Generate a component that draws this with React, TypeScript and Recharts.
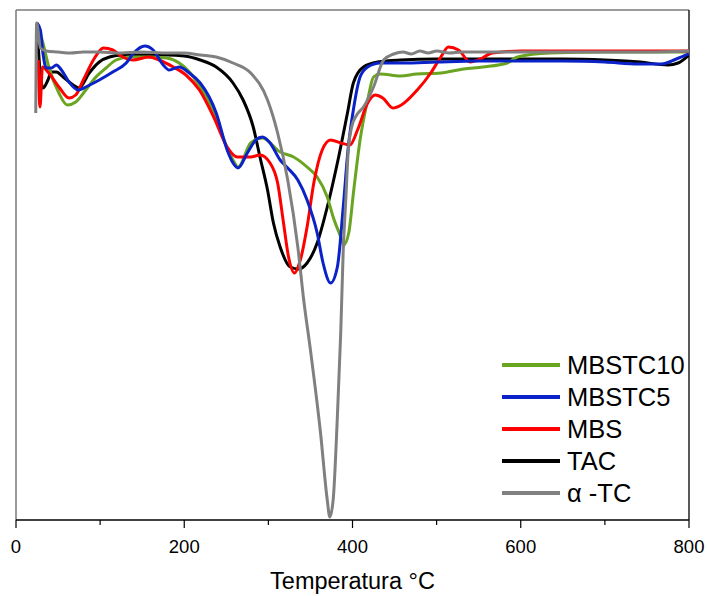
import React from 'react';
import { LineChart, Line, XAxis, YAxis, ReferenceLine, Legend, Label } from 'recharts';

// Temperatures (°C) and DTG signal (arbitrary units)
const tempMBSTC10 = [25, 32, 39, 51, 61, 71, 83, 95, 107, 119, 135, 158, 179, 194, 211, 226, 238, 243, 258, 264, 279, 293, 314, 330, 346, 358, 370, 377, 386, 389.5, 395.5, 401.5, 409, 418, 425, 433, 457, 476, 505, 532, 555, 584, 596, 635, 700, 800];
const dtgMBSTC10 = [497, 477, 453, 427, 415, 418, 430, 443, 452, 460, 463, 463, 462, 457, 443, 423, 403, 390, 360, 353, 377, 382, 368, 363, 353, 343, 323, 303, 283, 275, 287, 330, 380, 420, 443, 446, 444, 446, 447, 451, 453, 457, 463, 467, 468, 468];

const tempMBSTC5 = [25, 29, 32, 36, 42, 48, 54, 63, 74, 83, 99, 115, 131, 140, 153, 163, 175, 182, 194, 206, 219, 238, 251, 258, 264, 275, 285, 293, 302, 314, 323, 335, 346, 358, 365, 374, 382, 389, 395, 401, 409, 418, 433, 460, 500, 550, 600, 650, 700, 740, 767, 785, 800];
const dtgMBSTC5 = [497, 490, 467, 452, 452, 455, 450, 438, 430, 433, 440, 448, 457, 467, 474, 470, 455, 450, 453, 447, 437, 407, 370, 357, 352, 367, 380, 383, 377, 360, 352, 340, 320, 287, 257, 237, 253, 313, 373, 410, 443, 453, 457, 457, 458, 459, 459, 459, 458, 456, 456, 461, 466];

const tempMBS = [26.5, 28.5, 31.5, 39, 51, 63, 71, 80, 92, 104, 115, 127, 139, 158, 170, 187, 202, 218, 235, 251, 263, 279, 290, 302, 311, 318, 324, 331, 338, 346, 354, 364, 374, 386, 397, 406, 418, 427, 436, 448, 458, 477, 493, 505, 514, 526, 540, 552, 566, 600, 700, 800];
const dtgMBS = [460, 413, 453, 447, 433, 422, 425, 440, 460, 472, 470, 463, 460, 463, 460, 453, 445, 430, 403, 373, 363, 363, 365, 357, 337, 297, 263, 247, 260, 293, 337, 370, 380, 377, 375, 390, 417, 425, 422, 412, 415, 430, 447, 463, 473, 470, 458, 461, 467, 469, 469, 469];

const tempTAC = [25, 28, 32, 38, 42, 48, 56, 68, 75, 87, 99, 111, 127, 150, 180, 200, 219, 238, 258, 270, 282, 290, 299, 306, 314, 326, 336, 346, 358, 370, 382, 394, 401, 413, 430, 457, 500, 550, 600, 650, 700, 742, 775, 787, 800];
const dtgTAC = [495, 455, 432, 440, 448, 448, 443, 435, 432, 447, 458, 463, 465, 465, 465, 464, 460, 453, 437, 420, 393, 363, 330, 297, 273, 253, 251, 257, 277, 313, 357, 407, 437, 453, 458, 460, 461, 461, 461, 461, 460, 458, 455, 457, 465];

const tempAlphaTC = [23.5, 24.5, 29, 36, 50, 65, 80, 100, 120, 150, 180, 200, 219, 238, 258, 279, 299, 311, 323, 335, 342, 350, 362, 370, 373, 377, 382, 386, 389, 392, 395, 399, 405, 413, 425, 437, 449, 460, 470, 480, 490, 500, 515, 530, 550, 600, 650, 700, 750, 800];
const dtgAlphaTC = [407, 497, 472, 469, 468, 467, 468, 468, 467, 468, 467, 467, 465, 463, 457, 447, 420, 387, 340, 273, 220, 170, 87, 20, 3, 20, 103, 187, 270, 320, 370, 393, 405, 413, 433, 460, 466, 468, 466, 469, 467, 469, 467, 468, 468, 468, 468, 468, 468, 469];

const xTicks = [0, 100, 200, 300, 400, 500, 600, 700, 800];
const xLabel = 'Temperatura °C';

const zip = (t: number[], v: number[]) => t.map((T, i) => ({ T, v: v[i] }));

const series = [
  { name: 'MBSTC10', color: '#6aa521', data: zip(tempMBSTC10, dtgMBSTC10) },
  { name: 'MBSTC5', color: '#0a22c8', data: zip(tempMBSTC5, dtgMBSTC5) },
  { name: 'MBS', color: '#ff0000', data: zip(tempMBS, dtgMBS) },
  { name: 'TAC', color: '#000000', data: zip(tempTAC, dtgTAC) },
  { name: 'α -TC', color: '#808080', data: zip(tempAlphaTC, dtgAlphaTC) },
];

const drawOrder = ['TAC', 'MBSTC10', 'MBS', 'MBSTC5', 'α -TC'];

const FONT = 'Arial, "Liberation Sans", sans-serif';

const XTick = (props: any) => {
  const { x, y, payload } = props;
  const major = payload.value % 200 === 0;
  return (
    <g>
      <line x1={x} x2={x} y1={y} y2={y + (major ? 8 : 5)} stroke="#000" strokeWidth={1.2} />
      {major && (
        <text x={x} y={y + 33} textAnchor="middle" fontSize={18.5} fill="#000" fontFamily={FONT}>
          {payload.value}
        </text>
      )}
    </g>
  );
};

const LegendBox = () => (
  <div style={{ fontFamily: FONT }}>
    {series.map((s) => (
      <div key={s.name} style={{ display: 'flex', alignItems: 'center', height: 32 }}>
        <div style={{ width: 58, height: 3.5, background: s.color, marginRight: 7 }} />
        <span style={{ fontSize: 25.5, color: '#000', lineHeight: '32px', whiteSpace: 'nowrap' }}>{s.name}</span>
      </div>
    ))}
  </div>
);

export default function App() {
  return (
    <div style={{ position: 'absolute', left: 0, top: 0, width: 707, height: 596, background: '#fff' }}>
      <LineChart width={707} height={596} margin={{ top: 10, right: 18, left: 16, bottom: 0 }}>
        <XAxis
          type="number"
          dataKey="T"
          domain={[0, 800]}
          ticks={xTicks}
          allowDataOverflow
          tickSize={0}
          tickMargin={0}
          tickLine={false}
          tick={<XTick />}
          axisLine={{ stroke: '#000', strokeWidth: 1.5 }}
          height={76}
          interval={0}
        >
          <Label
            content={(p: any) => {
              const vb = p.viewBox;
              return (
                <text x={vb.x + vb.width / 2} y={vb.y + 69} textAnchor="middle" fontSize={23.5} fill="#000" fontFamily={FONT}>
                  {xLabel}
                </text>
              );
            }}
          />
        </XAxis>
        <YAxis type="number" domain={[0, 510]} hide allowDataOverflow />
        <ReferenceLine y={510} stroke="#7a7a7a" strokeWidth={1.5} />
        <ReferenceLine x={0} stroke="#7a7a7a" strokeWidth={1.5} />
        <ReferenceLine x={800} stroke="#222" strokeWidth={1.5} />
        {drawOrder.map((n) => {
          const s = series.find((q) => q.name === n)!;
          return (
            <Line
              key={s.name}
              data={s.data}
              dataKey="v"
              name={s.name}
              type="monotone"
              stroke={s.color}
              strokeWidth={3}
              dot={false}
              activeDot={false}
              isAnimationActive={false}
            />
          );
        })}
        <Legend
          layout="vertical"
          align="center"
          verticalAlign="middle"
          wrapperStyle={{ left: 502, top: 349, width: 200 }}
          content={() => <LegendBox />}
        />
      </LineChart>
    </div>
  );
}
